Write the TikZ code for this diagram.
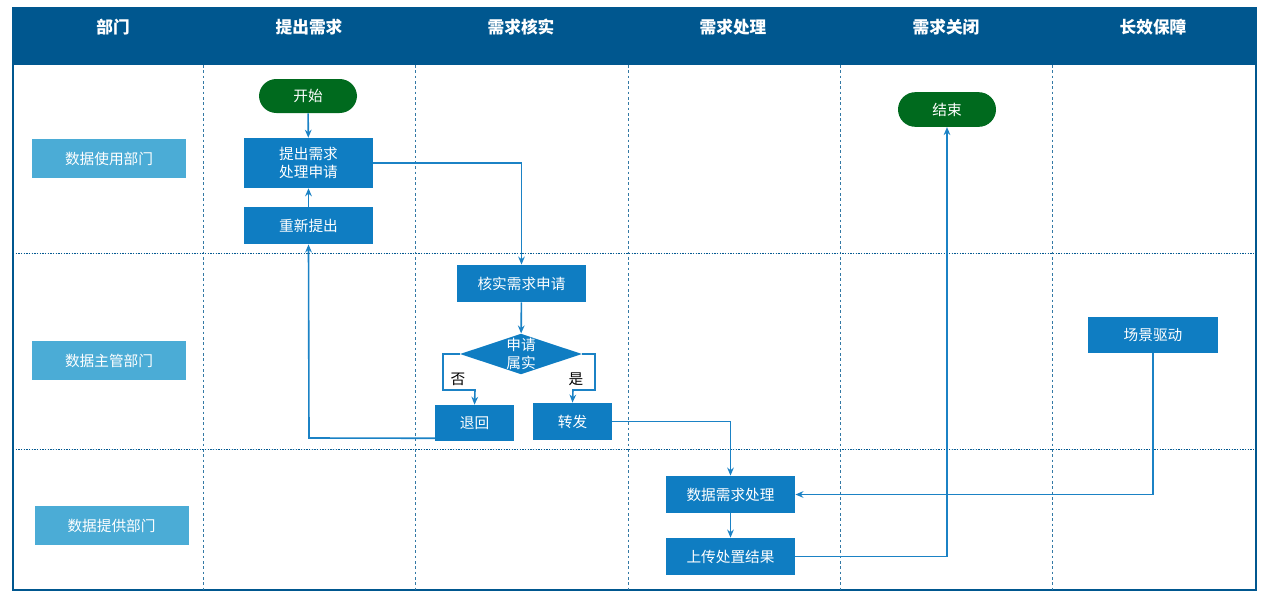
\documentclass[tikz,border=0pt]{standalone}
\usepackage{fontspec}
\setmainfont{Noto Sans CJK SC}
\usetikzlibrary{shapes.geometric,arrows.meta}
\definecolor{hdr}{HTML}{00578F}
\definecolor{dept}{HTML}{4BACD6}
\definecolor{box}{HTML}{0F7DC2}
\definecolor{grn}{HTML}{006A1E}
\definecolor{ln}{HTML}{1B82C5}
\begin{document}
\begin{tikzpicture}[x=0.75pt,y=-0.75pt,
  bx/.style={fill=box,text=white,font=\fontsize{11}{13}\selectfont,align=center,inner sep=0pt},
  dp/.style={fill=dept,text=white,font=\fontsize{11}{13}\selectfont,inner sep=0pt},
  tm/.style={fill=grn,text=white,rounded corners=13pt,font=\fontsize{11}{13}\selectfont,inner sep=0pt},
  hd/.style={text=white,font=\bfseries\fontsize{12.5}{14}\selectfont},
  ar/.style={draw=ln,line width=1.2pt,-{Stealth[length=6pt,width=5pt]}},
  dv/.style={dash pattern=on 2pt off 2pt,draw=hdr!80,line width=0.6pt}]
\useasboundingbox (0,0) rectangle (1267,596);
\fill[hdr] (13,8) rectangle (1256,65);
\draw[hdr,line width=1.2pt] (13,8) rectangle (1256,590);
\foreach \x in {203,415,628,840,1052} \draw[dv] (\x,65) -- (\x,590);
\foreach \y in {253,449} \draw[dash pattern=on 1pt off 1pt,draw=hdr,line width=0.6pt] (13,\y) -- (1256,\y);
\foreach \x/\t/\n in {113/部门/h0,309/提出需求/h1,521/需求核实/h2,733/需求处理/h3,946/需求关闭/h4,1153/长效保障/h5}
  \node[hd] (\n) at (\x,27) {\t};
\node[dp,minimum width=115.5pt,minimum height=29pt] (d1) at (109,158.5) {数据使用部门};
\node[dp,minimum width=115.5pt,minimum height=29pt] (d2) at (109,360.5) {数据主管部门};
\node[dp,minimum width=115.5pt,minimum height=29pt] (d3) at (111.5,525.5) {数据提供部门};
\node[tm,minimum width=73.5pt,minimum height=25.5pt] (start) at (308,96) {开始};
\node[tm,minimum width=73.5pt,minimum height=26pt] (end) at (947,109.5) {结束};
\node[bx,minimum width=97pt,minimum height=37.5pt] (req) at (308.5,163) {提出需求\\处理申请};
\node[bx,minimum width=97pt,minimum height=28pt] (re) at (308.5,225.5) {重新提出};
\node[bx,minimum width=97pt,minimum height=28pt] (chk) at (521.5,283.5) {核实需求申请};
\node[diamond,fill=box,text=white,aspect=3,minimum width=90pt,minimum height=30pt,inner sep=0pt,font=\fontsize{11}{13}\selectfont,align=center] (dia) at (521,354) {申请\\属实};
\node[bx,minimum width=59pt,minimum height=27pt] (back) at (474.5,423) {退回};
\node[bx,minimum width=59pt,minimum height=28pt] (fwd) at (572.5,421.5) {转发};
\node[bx,minimum width=97pt,minimum height=27pt] (scn) at (1153,335) {场景驱动};
\node[bx,minimum width=97pt,minimum height=28pt] (proc) at (730.5,494.5) {数据需求处理};
\node[bx,minimum width=97pt,minimum height=28pt] (up) at (730.5,556.5) {上传处置结果};
\draw[ar] (start) -- (req);
\draw[ar] (req.east) -| (chk.north);
\draw[ar] (chk) -- (dia);
\draw[ar] (dia.west) -- (443,354) -- (443,390) -- (475,390) -- (back.north);
\draw[ar] (dia.east) -- (595,354) -- (595,390) -- (573,390) -- (fwd.north);
\node[font=\fontsize{11}{13}\selectfont] (no) at (458,379) {否};
\node[font=\fontsize{11}{13}\selectfont] (yes) at (576,379) {是};
\draw[ar] (back.south west) ++(0,-3) -- (309,438) -- (re.south);
\draw[ar] (re) -- (req);
\draw[ar] (fwd.east) -| (proc.north);
\draw[ar] (scn.south) |- (proc.east);
\draw[ar] (proc) -- (up);
\draw[ar] (up.east) -| (end.south);
\end{tikzpicture}
\end{document}
